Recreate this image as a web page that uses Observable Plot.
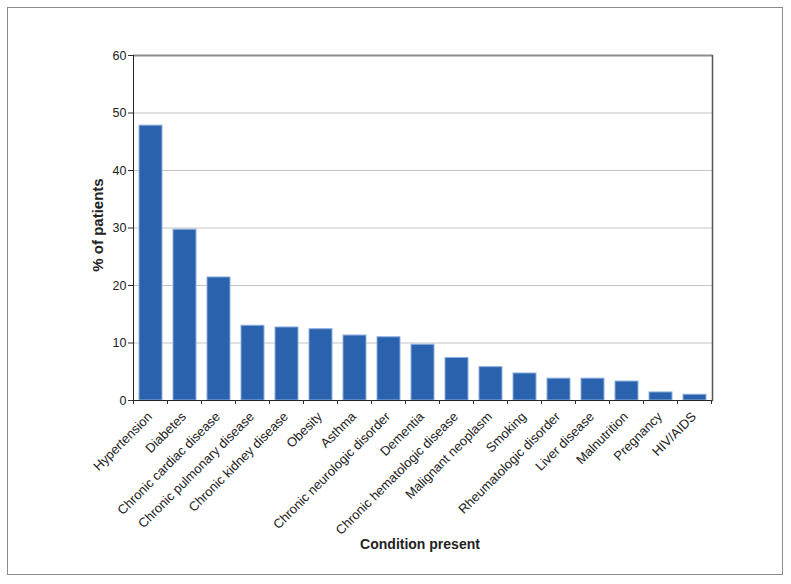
<!DOCTYPE html>
<html><head><meta charset="utf-8">
<script src="https://cdn.jsdelivr.net/npm/d3@7"></script>
<script src="https://cdn.jsdelivr.net/npm/@observablehq/plot@0.6"></script>
<style>
body{margin:0;background:#fff;}
#wrap{position:relative;width:791px;height:584px;}
#frame{position:absolute;left:7px;top:7px;width:774px;height:566px;border:1.5px solid #8c8c8c;pointer-events:none;}
</style></head><body><div id="wrap"><div id="frame"></div></div>
<script>
const categories = ["Hypertension","Diabetes","Chronic cardiac disease","Chronic pulmonary disease","Chronic kidney disease","Obesity","Asthma","Chronic neurologic disorder","Dementia","Chronic hematologic disease","Malignant neoplasm","Smoking","Rheumatologic disorder","Liver disease","Malnutrition","Pregnancy","HIV/AIDS"];
const values = [47.8,29.7,21.4,13.0,12.7,12.4,11.3,11.0,9.7,7.4,5.8,4.7,3.8,3.8,3.3,1.4,1.0];
const yTicks = [0,10,20,30,40,50,60];
const gridTicks = [10,20,30,40,50];
const topTick = [60];
const yLabel = "% of patients";
const xLabel = "Condition present";

const data = categories.map((c,i)=>({condition:c, pct:values[i]}));

function boundaryTicks(index, scales, vals, dims) {
  const sx = scales.x, sy = scales.y;
  const step = sx.step ? sx.step() : (dims.width - dims.marginLeft - dims.marginRight)/categories.length;
  const bw = sx.bandwidth ? sx.bandwidth() : 0;
  const xs = categories.map(c => sx(c) + bw/2 - step/2);
  xs.push(xs[xs.length-1] + step);
  const y0 = sy(0);
  const g = d3.create("svg:g").attr("stroke", "#333").attr("stroke-width", 1);
  for (const x of xs) g.append("line").attr("x1",x).attr("x2",x).attr("y1",y0).attr("y2",y0+4);
  return g.node();
}

const chart = Plot.plot({
  width: 791,
  height: 584,
  marginLeft: 133,
  marginRight: 79,
  marginTop: 55,
  marginBottom: 184,
  style: {fontFamily: "'Liberation Sans', Arial, Helvetica, sans-serif", fontSize: "12.5px", color: "#222", background: "transparent"},
  x: {domain: categories, paddingInner: 0.33, paddingOuter: 0.165, label: null},
  y: {domain: [0, 60], label: null},
  marks: [
    Plot.ruleY(gridTicks, {stroke: "#c4c4c4", strokeWidth: 1}),
    Plot.ruleY(topTick, {stroke: "#8c8c8c", strokeWidth: 2}),
    Plot.barY(data, {x: "condition", y: "pct", fill: "#2b62ae", stroke: "#8db0dd", strokeWidth: 1}),
    Plot.frame({anchor: "right", stroke: "#555", strokeWidth: 1.5}),
    Plot.frame({anchor: "left", stroke: "#222", strokeWidth: 1}),
    Plot.ruleY([0], {stroke: "#222", strokeWidth: 1}),
    boundaryTicks,
    Plot.axisY({ticks: yTicks, tickSize: 5, tickPadding: 2, label: null, fontSize: 12.5, stroke: "#333"}),
    Plot.axisX({tickRotate: -45, tickSize: 0, tickPadding: 14, dx: -1, label: null, fontSize: 13}),
    Plot.text([yLabel], {frameAnchor: "left", text: d => d, rotate: -90, textAnchor: "middle", lineAnchor: "middle", dx: -35, dy: -3, fontWeight: "bold", fontSize: 15, fill: "#222"}),
    Plot.text([xLabel], {frameAnchor: "bottom", text: d => d, textAnchor: "middle", lineAnchor: "middle", dy: 144, dx: -3, fontWeight: "bold", fontSize: 14, fill: "#222"})
  ]
});
document.getElementById("wrap").prepend(chart);
</script>
</body></html>
